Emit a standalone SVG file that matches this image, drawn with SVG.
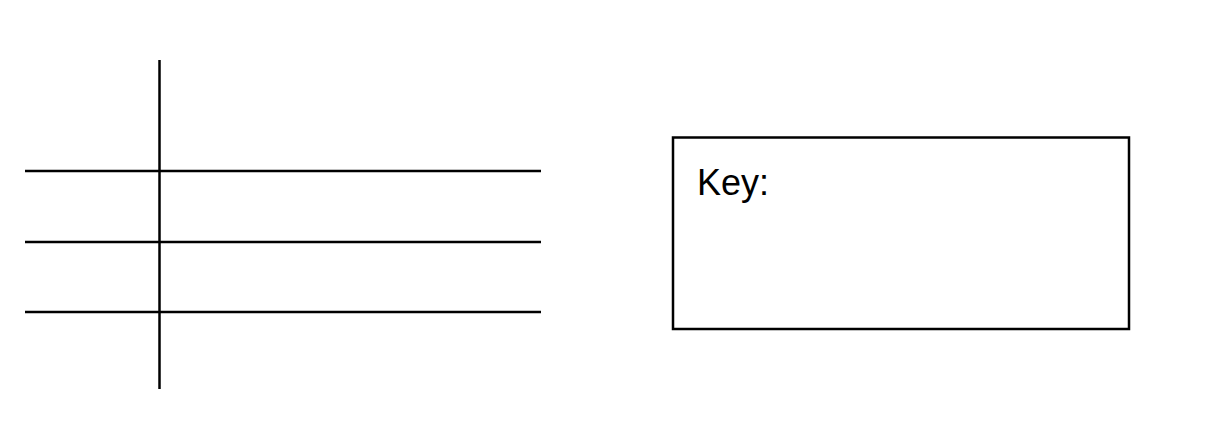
<svg xmlns="http://www.w3.org/2000/svg" width="1206" height="447" viewBox="0 0 1206 447">
<style>
.ln{stroke:#000;stroke-width:2.5;fill:none}
.key{font-family:"Liberation Sans",Arial,sans-serif;font-size:36px;fill:#000}
</style>
<rect width="1206" height="447" fill="#fff"/>
<g id="connectors">
<line class="ln" x1="159.5" y1="60" x2="159.5" y2="389"/>
<line class="ln" x1="25" y1="171" x2="541" y2="171"/>
<line class="ln" x1="25" y1="242" x2="541" y2="242"/>
<line class="ln" x1="25" y1="312" x2="541" y2="312"/>
</g>
<g id="key">
<rect class="ln" x="673" y="137.5" width="456" height="191.5"/>
<text class="key" x="697" y="195">Key:</text>
</g>
</svg>
